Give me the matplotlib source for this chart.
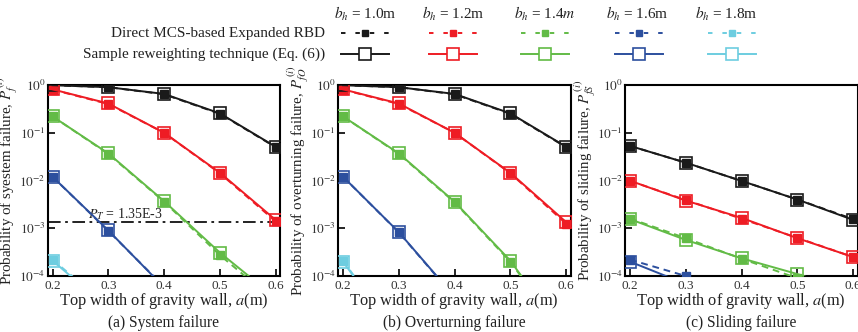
import numpy as np
import matplotlib
matplotlib.use("Agg")
import matplotlib.pyplot as plt
from matplotlib.lines import Line2D

plt.rcParams['font.family'] = ['Liberation Serif', 'DejaVu Serif']
plt.rcParams['mathtext.fontset'] = 'stix'

# ---------------- data ----------------
a_vals = [0.2, 0.3, 0.4, 0.5, 0.6]
bh_labels = ["1.0m", "1.2m", "1.4$m$", "1.6m", "1.8m"]
colors = ["#1a1a1a", "#ee1c24", "#62bb46", "#2c4f9e", "#6dcde0"]

# System failure (sample reweighting = solid; direct MCS = dashed)
sys_rw = [
    [0.99, 0.90, 0.65, 0.255, 0.051],
    [0.81, 0.41, 0.10, 0.0146, 1.5e-3],
    [0.22, 0.037, 3.7e-3, 3.1e-4, 3.5e-5],
    [0.012, 9.0e-4, 5.8e-5, 4.0e-6, 3.0e-7],
    [2.1e-4, 2.1e-5, 2.0e-6, 2.0e-7, 2.0e-8],
]
sys_mcs = [
    [0.99, 0.90, 0.64, 0.25, 0.050],
    [0.80, 0.40, 0.10, 0.0142, 1.4e-3],
    [0.22, 0.036, 3.6e-3, 2.75e-4, 2.9e-5],
    [0.012, 8.8e-4, 6.0e-5, 4.0e-6, 3.0e-7],
    [2.2e-4, 2.3e-5, 2.0e-6, 2.0e-7, 2.0e-8],
]
# Overturning failure
ov_rw = [
    [0.99, 0.90, 0.65, 0.255, 0.051],
    [0.81, 0.41, 0.10, 0.0145, 1.35e-3],
    [0.22, 0.037, 3.6e-3, 2.1e-4, 5.0e-6],
    [0.012, 8.3e-4, 3.7e-5, 1.0e-6, 1.0e-7],
    [2.0e-4, 4.8e-6, 1.0e-7, 1.0e-8, 1.0e-9],
]
ov_mcs = [
    [0.99, 0.90, 0.64, 0.25, 0.050],
    [0.80, 0.40, 0.10, 0.0142, 1.25e-3],
    [0.22, 0.036, 3.5e-3, 2.0e-4, 5.0e-6],
    [0.012, 8.2e-4, 3.6e-5, 1.0e-6, 1.0e-7],
    [2.1e-4, 5.0e-6, 1.0e-7, 1.0e-8, 1.0e-9],
]
# Sliding failure
sl_rw = [
    [0.053, 0.0236, 0.0098, 4.0e-3, 1.5e-3],
    [9.9e-3, 3.8e-3, 1.65e-3, 6.2e-4, 2.5e-4],
    [1.55e-3, 5.7e-4, 2.35e-4, 1.1e-4, 4.5e-5],
    [2.0e-4, 6.8e-5, 2.5e-5, 9.0e-6, 3.0e-6],
    [3.0e-5, 1.0e-5, 3.0e-6, 1.0e-6, 3.0e-7],
]
sl_mcs = [
    [0.053, 0.0236, 0.0098, 4.0e-3, 1.56e-3],
    [9.8e-3, 3.9e-3, 1.58e-3, 6.3e-4, 2.5e-4],
    [1.6e-3, 6.2e-4, 2.3e-4, 9.0e-5, 3.5e-5],
    [2.2e-4, 1.0e-4, 4.0e-5, 1.5e-5, 5.0e-6],
    [3.0e-5, 1.0e-5, 3.0e-6, 1.0e-6, 3.0e-7],
]

panels = [
    (sys_rw, sys_mcs, "Probability of syestem failure, $P_f^{\\,(i)}$", "(a) System failure"),
    (ov_rw, ov_mcs, "Probability of overturning failure, $P_{fO}^{\\,(i)}$", "(b) Overturning failure"),
    (sl_rw, sl_mcs, "Probability of sliding failure, $P_{fS}^{\\,(i)}$", "(c) Sliding failure"),
]
P_T = 1.35e-3
xlabel = "Top width of gravity wall, $a$(m)"

W, H = 858, 332
fig = plt.figure(figsize=(W / 100, H / 100), dpi=100)

def fx(px):
    return px / W

def fy(py):
    return 1 - py / H

ax_lefts = [47.5, 338, 625]
ax_w, ax_top, ax_bot = 232.5, 85, 276
xlim = (0.191, 0.608)
tick_col = "#333333"
txt_col = "#222222"

for i, (rw, mcs, ylab, cap) in enumerate(panels):
    L = ax_lefts[i]
    ax = fig.add_axes([fx(L), fy(ax_bot), ax_w / W, (ax_bot - ax_top) / H])
    for k in range(5):
        ax.plot(a_vals, mcs[k], ls=(0, (3.5, 2.5)), color=colors[k], lw=1.4,
                marker='s', ms=5.5, mfc=colors[k], mec=colors[k], zorder=3)
    for k in range(5):
        ax.plot(a_vals, rw[k], ls='-', color=colors[k], lw=1.4,
                marker='s', ms=9, mfc='none', mec=colors[k], mew=1.2, zorder=4)
    if i == 0:
        ax.axhline(P_T, color='#111111', lw=1.3, ls=(0, (7, 2.5, 1.5, 2.5)), zorder=2)
        ax.text(0.264, 1.6e-3, "$P_T$ = 1.35E-3", fontsize=10, color=txt_col)
    ax.set_yscale('log')
    ax.set_ylim(1e-4, 1)
    ax.set_xlim(*xlim)
    ax.set_xticks([0.2, 0.3, 0.4, 0.5, 0.6])
    ax.set_xticklabels(["0.2", "0.3", "0.4", "0.5", "0.6"])
    ax.set_yticks([1e-4, 1e-3, 1e-2, 1e-1, 1])
    ax.set_yticklabels(["$10^{-4}$", "$10^{-3}$", "$10^{-2}$", "$10^{-1}$", "$10^{0}$"])
    ax.yaxis.set_minor_locator(matplotlib.ticker.NullLocator())
    ax.tick_params(direction='in', length=5, width=1.2, labelsize=9.5,
                   labelcolor=tick_col, pad=3)
    ax.tick_params(axis='y', pad=1.5)
    for s in ax.spines.values():
        s.set_linewidth(1.5)
    ax.set_ylabel(ylab, fontsize=10.8, color=txt_col)
    ax.yaxis.set_label_coords(-27 / ax_w, 0.5)
    fig.text(fx(L + ax_w / 2), fy(305), xlabel,
             fontsize=11.8, ha='center', va='baseline', color=txt_col)
    fig.text(fx(L + ax_w / 2), fy(327), cap, fontsize=11.2, ha='center',
             va='baseline', color=txt_col)

# ---------------- legend (figure level) ----------------
sample_x = [364.5, 453, 545, 638.5, 731.5]
head_x = [365.7, 453, 545, 637.5, 726.7]
row_dash, row_solid, row_head = 33, 54, 14
half = 24
fig.text(fx(325), fy(row_dash), "Direct MCS-based Expanded RBD", fontsize=11,
         ha='right', va='center', color=txt_col)
fig.text(fx(325), fy(row_solid), "Sample reweighting technique (Eq. (6))", fontsize=11,
         ha='right', va='center', color=txt_col)
for k in range(5):
    cx = sample_x[k]
    fig.text(fx(head_x[k]), fy(row_head), "$b_h$ = " + bh_labels[k], fontsize=11,
             ha='center', va='center', color=txt_col)
    fig.add_artist(Line2D([fx(cx - half), fx(cx + half)], [fy(row_dash)] * 2,
                          transform=fig.transFigure, color=colors[k], lw=1.4,
                          ls=(0, (2.3, 5.1))))
    fig.add_artist(Line2D([fx(cx)], [fy(row_dash)], transform=fig.transFigure,
                          color=colors[k], marker='s', ms=5, ls='none'))
    fig.add_artist(Line2D([fx(cx - half), fx(cx + half)], [fy(row_solid)] * 2,
                          transform=fig.transFigure, color=colors[k], lw=1.4,
                          ls='-'))
    fig.add_artist(Line2D([fx(cx)], [fy(row_solid)], transform=fig.transFigure,
                          color=colors[k], marker='s', ms=8, mfc='white',
                          mec=colors[k], mew=1.2, ls='none'))

fig.savefig("out.png", dpi=100)
